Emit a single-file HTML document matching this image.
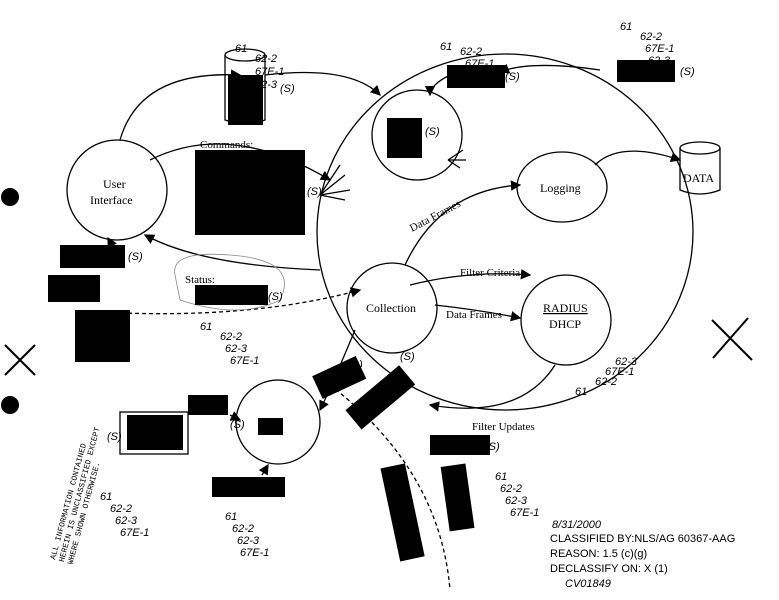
<!DOCTYPE html>
<html><head><style>
body{margin:0;background:#fff;}
svg{display:block;font-family:"Liberation Serif",serif;}
.h{font-family:"Liberation Sans",sans-serif;font-style:italic;font-size:11px;}
</style></head><body>
<svg width="779" height="600" viewBox="0 0 779 600" xmlns="http://www.w3.org/2000/svg">
<defs><marker id="a" markerWidth="8" markerHeight="8" refX="7" refY="4" orient="auto"><path d="M0,0 L8,4 L0,8z" fill="#000"/></marker></defs>
<g fill="none" stroke="#000" stroke-width="1.3">
<ellipse cx="505" cy="232" rx="188" ry="178"/>
<circle cx="117" cy="190" r="50"/>
<circle cx="392" cy="308" r="45"/>
<ellipse cx="562" cy="187" rx="45" ry="35"/>
<circle cx="566" cy="320" r="45"/>
<circle cx="417" cy="135" r="45"/>
<circle cx="278" cy="422" r="42"/>
<path d="M680,148 v42 q20,8 40,0 v-42" /><ellipse cx="700" cy="148" rx="20" ry="6"/>
<path d="M225,55 v65 q20,8 40,0 v-65"/><ellipse cx="245" cy="55" rx="20" ry="6"/>
<path d="M120,140 Q140,70 240,75" marker-end="url(#a)"/>
<path d="M265,75 Q350,65 380,95" marker-end="url(#a)"/>
<path d="M150,160 Q230,120 330,180" marker-end="url(#a)"/>
<path d="M320,270 Q200,265 145,235" marker-end="url(#a)"/>
<path d="M595,165 Q620,140 680,160" marker-end="url(#a)"/>
<path d="M405,265 Q440,190 520,185" marker-end="url(#a)"/>
<path d="M410,285 Q470,270 530,275" marker-end="url(#a)"/>
<path d="M435,305 Q480,310 520,318" marker-end="url(#a)"/>
<path d="M555,365 Q520,420 430,405" marker-end="url(#a)"/>
<path d="M355,330 Q330,390 320,410" marker-end="url(#a)"/>
<path d="M120,260 L108,238" marker-end="url(#a)"/>
<path d="M100,312 Q250,320 360,290" stroke-dasharray="4 3" marker-end="url(#a)"/>
<path d="M330,385 Q440,470 450,590" stroke-dasharray="4 3"/>
<path d="M230,415 L240,420" marker-end="url(#a)"/>
<path d="M262,475 L268,465" marker-end="url(#a)"/>
<path d="M600,70 Q530,60 500,72" marker-end="url(#a)"/>
<path d="M450,75 Q430,85 430,95" marker-end="url(#a)"/>
<path d="M175,275 Q170,250 230,255 Q300,260 280,300 Q240,320 180,300 Z" stroke-width="0.8" stroke="#888"/>
<rect x="120" y="412" width="68" height="42"/>
<path d="M320,195 l20,-30 M320,195 l25,-20 M320,195 l30,-5 M320,195 l25,5 M448,160 l15,-10 M448,160 l18,0 M448,160 l12,8"/>
<path d="M712,320 l40,40 M748,318 l-35,40" stroke-width="2"/>
<path d="M5,345 l30,30 M35,345 l-30,30" stroke-width="2"/>
</g>
<g fill="#000">
<circle cx="10" cy="197" r="9"/><circle cx="10" cy="405" r="9"/>
<rect x="195" y="150" width="110" height="85"/>
<rect x="60" y="245" width="65" height="23"/>
<rect x="48" y="275" width="52" height="27"/>
<rect x="75" y="310" width="55" height="52"/>
<rect x="195" y="285" width="73" height="20"/>
<rect x="228" y="75" width="35" height="50"/>
<rect x="447" y="65" width="58" height="23"/>
<rect x="617" y="60" width="58" height="22"/>
<rect x="387" y="118" width="35" height="40"/>
<rect x="315" y="365" width="48" height="25" transform="rotate(-25 339 377)"/>
<rect x="345" y="385" width="70" height="25" transform="rotate(-40 380 397)"/>
<rect x="188" y="395" width="40" height="20"/>
<rect x="127" y="415" width="56" height="35"/>
<rect x="258" y="418" width="25" height="17"/>
<rect x="212" y="477" width="73" height="20"/>
<rect x="430" y="435" width="60" height="20"/>
<rect x="390" y="465" width="25" height="95" transform="rotate(-12 402 512)"/>
<rect x="445" y="465" width="25" height="65" transform="rotate(-8 457 497)"/>
</g>
<g font-size="12">
<text x="103" y="188">User</text><text x="90" y="204">Interface</text>
<text x="366" y="312">Collection</text>
<text x="540" y="192">Logging</text>
<text x="543" y="312" text-decoration="underline">RADIUS</text><text x="549" y="328">DHCP</text>
<text x="683" y="182">DATA</text>
<text x="200" y="148" font-size="11">Commands:</text>
<text x="185" y="283" font-size="11">Status:</text>
<text x="460" y="276" font-size="11">Filter Criteria</text>
<text x="446" y="318" font-size="11">Data Frames</text>
<text x="412" y="232" font-size="11" transform="rotate(-28 412 232)">Data Frames</text>
<text x="472" y="430" font-size="11">Filter Updates</text>
</g>
<g class="h">
<text x="280" y="92">(S)</text><text x="505" y="80">(S)</text><text x="680" y="75">(S)</text>
<text x="425" y="135">(S)</text><text x="307" y="195">(S)</text><text x="128" y="260">(S)</text>
<text x="268" y="300">(S)</text><text x="230" y="428">(S)</text><text x="107" y="440">(S)</text>
<text x="485" y="450">(S)</text><text x="348" y="368">(S)</text><text x="400" y="360">(S)</text>
<text x="235" y="52">61</text><text x="255" y="62">62-2</text><text x="255" y="75">67E-1</text><text x="255" y="88">62-3</text>
<text x="440" y="50">61</text><text x="460" y="55">62-2</text><text x="465" y="67">67E-1</text><text x="470" y="78">62-3</text>
<text x="620" y="30">61</text><text x="640" y="40">62-2</text><text x="645" y="52">67E-1</text><text x="648" y="64">62-3</text>
<text x="200" y="330">61</text><text x="220" y="340">62-2</text><text x="225" y="352">62-3</text><text x="230" y="364">67E-1</text>
<text x="575" y="395">61</text><text x="595" y="385">62-2</text><text x="605" y="375">67E-1</text><text x="615" y="365">62-3</text>
<text x="100" y="500">61</text><text x="110" y="512">62-2</text><text x="115" y="524">62-3</text><text x="120" y="536">67E-1</text>
<text x="225" y="520">61</text><text x="232" y="532">62-2</text><text x="237" y="544">62-3</text><text x="240" y="556">67E-1</text>
<text x="495" y="480">61</text><text x="500" y="492">62-2</text><text x="505" y="504">62-3</text><text x="510" y="516">67E-1</text>
</g>
<g font-family="Liberation Sans,sans-serif" font-size="11">
<text x="552" y="528" font-style="italic">8/31/2000</text>
<text x="550" y="542">CLASSIFIED BY:NLS/AG 60367-AAG</text>
<text x="550" y="557">REASON:   1.5  (c)(g)</text>
<text x="550" y="572">DECLASSIFY ON: X (1)</text>
<text x="565" y="587" font-style="italic">CV01849</text>
</g>
<text font-family="Liberation Mono,monospace" font-size="8" transform="translate(55,560) rotate(-75)">ALL INFORMATION CONTAINED<tspan x="0" dy="9">HEREIN IS UNCLASSIFIED EXCEPT</tspan><tspan x="0" dy="9">WHERE SHOWN OTHERWISE.</tspan></text>
</svg>
</body></html>
